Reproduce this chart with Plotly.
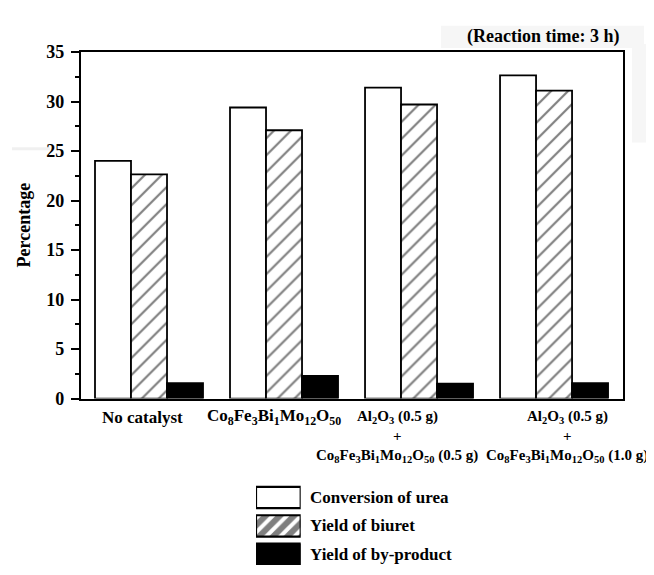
import plotly.graph_objects as go

# ---------------- data ----------------
categories = ["No catalyst", "Co8Fe3Bi1Mo12O50",
              "Al2O3 (0.5 g) + Co8Fe3Bi1Mo12O50 (0.5 g)",
              "Al2O3 (0.5 g) + Co8Fe3Bi1Mo12O50 (1.0 g)"]
conversion_of_urea = [24.0, 29.4, 31.4, 32.65]
yield_of_biuret = [22.65, 27.1, 29.7, 31.1]
yield_of_byproduct = [1.55, 2.3, 1.5, 1.55]
series_names = ["Conversion of urea", "Yield of biuret", "Yield of by-product"]
y_ticks = [0, 5, 10, 15, 20, 25, 30, 35]

CO = "Co<sub>8</sub>Fe<sub>3</sub>Bi<sub>1</sub>Mo<sub>12</sub>O<sub>50</sub>"
AL = "Al<sub>2</sub>O<sub>3</sub> (0.5 g)"
label_lines = [
    ["No catalyst"],
    [CO],
    [AL, "+", CO + " (0.5 g)"],
    [AL, "+", CO + " (1.0 g)"],
]

# ---------------- layout helpers ----------------
# the page body has an 8px default margin, so the figure is sized to the
# remaining viewport and window coordinates are shifted by that offset
OFF = 8
W, H = 654 - OFF, 575 - OFF
FONT = "Liberation Serif"
def px(x):
    return (x - OFF) / W
def py(y):
    return 1 - (y - OFF) / H

xpos = list(range(len(categories)))

fig = go.Figure()

line_w = 1.8
fig.add_trace(go.Bar(x=xpos, y=conversion_of_urea, name=series_names[0],
                     marker=dict(color="white", line=dict(color="black", width=line_w)),
                     showlegend=False, hoverinfo="skip"))
fig.add_trace(go.Bar(x=xpos, y=yield_of_biuret, name=series_names[1],
                     marker=dict(color="white", line=dict(color="black", width=line_w),
                                 pattern=dict(shape="/", fgcolor="black", bgcolor="white",
                                              size=12, solidity=0.18, fillmode="overlay")),
                     showlegend=False, hoverinfo="skip"))
fig.add_trace(go.Bar(x=xpos, y=yield_of_byproduct, name=series_names[2],
                     marker=dict(color="black", line=dict(color="black", width=line_w)),
                     showlegend=False, hoverinfo="skip"))

# legend swatches drawn as a small subplot
leg_vals = [1, 1, 1]
leg_rows = [0, 1, 2]
fig.add_trace(go.Bar(x=[leg_vals[0]], y=[leg_rows[0]], orientation="h", xaxis="x3", yaxis="y3",
                     width=0.75, cliponaxis=False,
                     marker=dict(color="white", line=dict(color="black", width=2.2)),
                     showlegend=False, hoverinfo="skip"))
fig.add_trace(go.Bar(x=[leg_vals[1]], y=[leg_rows[1]], orientation="h", xaxis="x3", yaxis="y3",
                     width=0.75, cliponaxis=False,
                     marker=dict(color="white", line=dict(color="black", width=2.2),
                                 pattern=dict(shape="/", fgcolor="black", bgcolor="white",
                                              size=10, solidity=0.6, fillmode="overlay")),
                     showlegend=False, hoverinfo="skip"))
fig.add_trace(go.Bar(x=[leg_vals[2]], y=[leg_rows[2]], orientation="h", xaxis="x3", yaxis="y3",
                     width=0.75, cliponaxis=False,
                     marker=dict(color="black", line=dict(color="black", width=2.2)),
                     showlegend=False, hoverinfo="skip"))

axis_w = 2.4
fig.update_layout(
    width=W, height=H,
    margin=dict(l=0, r=0, t=0, b=0),
    paper_bgcolor="white", plot_bgcolor="rgba(0,0,0,0)",
    barmode="group", bargap=0.2, bargroupgap=0,
    font=dict(family=FONT, size=17, color="black"),
    xaxis=dict(domain=[px(81), px(622.5)], range=[-0.5037, 3.507],
               showticklabels=False, ticks="", showgrid=False, zeroline=False,
               showline=True, linecolor="black", linewidth=axis_w, mirror=True),
    yaxis=dict(domain=[py(402.5), py(43.3)], range=[0, 35], tickvals=y_ticks,
               ticks="outside", ticklen=8, tickwidth=2, tickcolor="black",
               minor=dict(dtick=2.5, ticks="outside", ticklen=4, tickwidth=2, tickcolor="black"),
               tickfont=dict(family=FONT, size=18, weight="bold"),
               ticklabelstandoff=3,
               showgrid=False, zeroline=False,
               showline=True, linecolor="black", linewidth=axis_w, mirror=True),
    xaxis3=dict(domain=[px(256), px(300.7)], range=[0, 1], anchor="y3",
                visible=False),
    yaxis3=dict(domain=[0, py(490)], range=[2.373, -0.508], anchor="x3",
                visible=False),
)

# faint scan-background patches
shapes = [
    dict(type="rect", xref="paper", yref="paper", x0=px(441), x1=px(644), y0=py(39), y1=py(16),
         fillcolor="#f6f6f6", line=dict(width=0), layer="below"),
    dict(type="rect", xref="paper", yref="paper", x0=px(632), x1=px(650), y0=py(137), y1=py(35),
         fillcolor="#f6f6f6", line=dict(width=0), layer="below"),
    dict(type="rect", xref="paper", yref="paper", x0=px(12), x1=px(50), y0=py(145), y1=py(142),
         fillcolor="#f0f0f0", line=dict(width=0), layer="below"),
]
fig.update_layout(shapes=shapes)

ann = []
# y-axis title
ann.append(dict(text="<b>Percentage</b>", xref="paper", yref="paper", x=px(24), y=py(223),
                textangle=-90, showarrow=False, font=dict(size=18),
                xanchor="center", yanchor="middle"))
# top-right note
ann.append(dict(text="<b>(Reaction time: 3 h)</b>", xref="paper", yref="paper",
                x=px(621), y=py(27), showarrow=False, font=dict(size=18),
                xanchor="right", yanchor="middle"))

# category labels
label_shift = [-7, -10, -22, 13]
label_size = [17, 17, 15, 15]
line_y = [422, 441, 462]
for i, lines in enumerate(label_lines):
    for j, t in enumerate(lines):
        ann.append(dict(text="<b>" + t + "</b>", xref="x", yref="paper", x=xpos[i],
                        xshift=label_shift[i], y=py(line_y[j]), showarrow=False,
                        font=dict(size=label_size[i]), xanchor="center", yanchor="middle"))

# legend texts
for r, name in zip(leg_rows, series_names):
    ann.append(dict(text="<b>" + name + "</b>", xref="paper", yref="y3", x=px(308), y=r,
                    showarrow=False, font=dict(size=17), xanchor="left", yanchor="middle"))

fig.update_layout(annotations=ann)

fig.write_html("out.html")
